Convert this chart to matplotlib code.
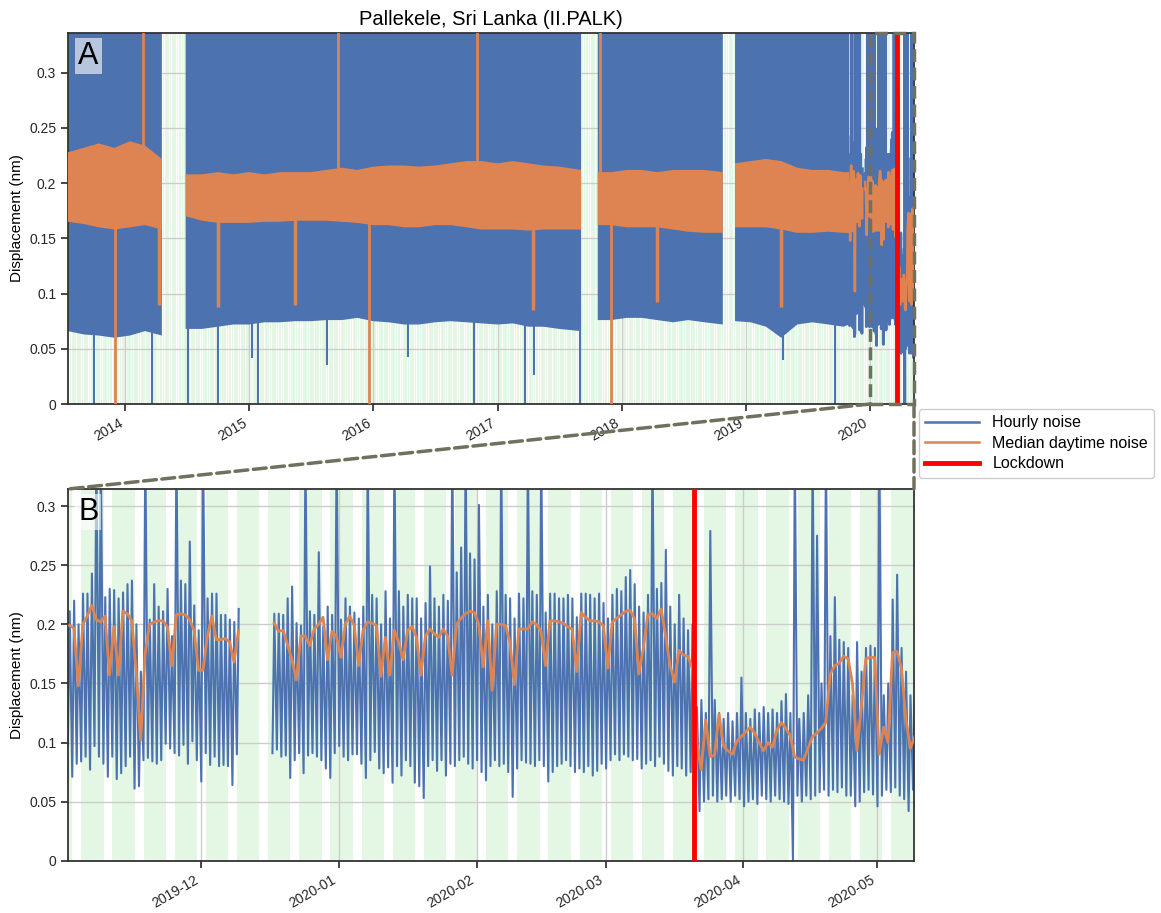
import numpy as np
import pandas as pd
import matplotlib
matplotlib.use('Agg')
import matplotlib.pyplot as plt
import matplotlib.dates as mdates
from matplotlib.patches import Rectangle, ConnectionPatch
from matplotlib.lines import Line2D
from matplotlib.ticker import FuncFormatter

plt.rcParams['font.family'] = ['Liberation Sans', 'DejaVu Sans']

BLUE = '#4c72b0'
ORANGE = '#dd8452'
GREEN = '#e4f7e4'
DASH = '#70705e'

# ---- panel A: long record, envelope read per period (nm) ----
A_DATES = ['2013-07-17', '2013-09-01', '2013-10-15', '2013-12-01', '2014-01-15', '2014-03-01', '2014-04-19', '2014-05-20',
           '2014-06-28', '2014-08-15', '2014-10-01', '2014-11-15', '2015-01-01', '2015-02-15', '2015-04-01', '2015-05-15',
           '2015-07-01', '2015-08-15', '2015-10-01', '2015-11-15', '2016-01-01', '2016-02-15', '2016-04-01', '2016-05-15',
           '2016-07-01', '2016-08-15', '2016-10-01', '2016-11-15', '2017-01-01', '2017-02-15', '2017-04-01', '2017-05-15',
           '2017-07-01', '2017-09-03', '2017-09-30',
           '2017-10-22', '2017-12-01', '2018-01-15', '2018-03-01', '2018-04-15', '2018-06-01', '2018-07-15', '2018-09-01',
           '2018-10-25', '2018-11-12',
           '2018-11-30', '2019-01-15', '2019-03-01', '2019-04-15', '2019-06-01', '2019-07-15', '2019-09-01', '2019-10-15',
           '2019-11-01']
A_BLUE_LO = [0.066, 0.063, 0.062, 0.060, 0.062, 0.066, 0.062, np.nan,
             0.068, 0.068, 0.070, 0.072, 0.072, 0.074, 0.074, 0.075,
             0.075, 0.076, 0.076, 0.078, 0.075, 0.074, 0.072, 0.072,
             0.074, 0.075, 0.074, 0.073, 0.072, 0.073, 0.070, 0.070,
             0.068, 0.066, np.nan,
             0.076, 0.076, 0.078, 0.078, 0.076, 0.074, 0.076, 0.074,
             0.072, np.nan,
             0.075, 0.074, 0.070, 0.060, 0.072, 0.074, 0.072, 0.070,
             0.072]
A_MED_LO = [0.165, 0.163, 0.160, 0.158, 0.160, 0.162, 0.158, np.nan,
            0.170, 0.166, 0.164, 0.164, 0.164, 0.165, 0.165, 0.166,
            0.166, 0.166, 0.165, 0.164, 0.162, 0.162, 0.160, 0.160,
            0.162, 0.162, 0.160, 0.158, 0.158, 0.158, 0.157, 0.158,
            0.158, 0.158, np.nan,
            0.162, 0.162, 0.160, 0.160, 0.160, 0.158, 0.156, 0.155,
            0.155, np.nan,
            0.160, 0.160, 0.160, 0.158, 0.155, 0.155, 0.156, 0.155,
            0.155]
A_MED_HI = [0.228, 0.232, 0.236, 0.232, 0.238, 0.234, 0.222, np.nan,
            0.208, 0.208, 0.210, 0.208, 0.210, 0.208, 0.210, 0.210,
            0.210, 0.212, 0.214, 0.212, 0.215, 0.216, 0.216, 0.215,
            0.216, 0.218, 0.220, 0.220, 0.218, 0.220, 0.218, 0.216,
            0.215, 0.212, np.nan,
            0.210, 0.210, 0.212, 0.212, 0.210, 0.212, 0.212, 0.212,
            0.210, np.nan,
            0.218, 0.220, 0.222, 0.220, 0.214, 0.212, 0.212, 0.210,
            0.210]
A_BLUE_DROP = ['2013-10-02', '2014-03-20', '2014-07-04', '2014-10-01', '2015-01-26',
               '2016-10-22', '2017-03-22', '2017-09-01', '2019-09-21']
A_BLUE_DIP_DATES = ['2015-01-09', '2015-08-17', '2016-04-12', '2017-04-18', '2019-04-20']
A_BLUE_DIP_VALS = [0.042, 0.035, 0.043, 0.026, 0.040]
A_MED_DROP = ['2013-12-03', '2015-12-18', '2017-11-29']
A_MED_PEAK = ['2014-02-23', '2015-09-20', '2016-11-01', '2017-10-29']
A_MED_DIP_DATES = ['2014-04-10', '2014-09-30', '2015-05-15', '2017-04-15', '2018-04-14', '2019-04-14']
A_MED_DIP_VALS = [0.090, 0.088, 0.090, 0.085, 0.092, 0.088]

# ---- panel B: daily values from 2019-11-01 (nm) ----
B_START = '2019-11-01'
B_MED = [0.199, 0.197, 0.148, 0.200, 0.207, 0.216, 0.204, 0.202, 0.207, 0.157,
         0.198, 0.157, 0.211, 0.209, 0.203, 0.160, 0.102, 0.175, 0.200, 0.202,
         0.203, 0.203, 0.198, 0.165, 0.208, 0.209, 0.208, 0.204, 0.195, 0.161,
         0.161, 0.190, 0.207, 0.187, 0.187, 0.188, 0.185, 0.168, 0.195,
         np.nan, np.nan, np.nan, np.nan, np.nan, np.nan, np.nan,
         0.201, 0.194, 0.195, 0.183, 0.170, 0.153, 0.190, 0.190, 0.182, 0.196,
         0.200, 0.206, 0.170, 0.194, 0.190, 0.172, 0.200, 0.207, 0.199, 0.165,
         0.195, 0.202, 0.201, 0.199, 0.156, 0.189, 0.157, 0.195, 0.185, 0.170,
         0.195, 0.198, 0.189, 0.157, 0.190, 0.196, 0.192, 0.189, 0.196, 0.190,
         0.157, 0.200, 0.205, 0.209, 0.211, 0.210, 0.200, 0.164, 0.203, 0.144,
         0.200, 0.200, 0.199, 0.185, 0.149, 0.196, 0.196, 0.196, 0.202, 0.200,
         0.194, 0.165, 0.203, 0.203, 0.202, 0.201, 0.198, 0.196, 0.160, 0.210,
         0.206, 0.203, 0.203, 0.202, 0.199, 0.163, 0.202, 0.205, 0.208, 0.211,
         0.212, 0.205, 0.158, 0.180, 0.208, 0.209, 0.205, 0.213, 0.190, 0.165,
         0.151, 0.178, 0.174, 0.173, 0.163, 0.100, 0.077, 0.119, 0.088, 0.089,
         0.124, 0.097, 0.093, 0.090, 0.101, 0.105, 0.109, 0.113, 0.108, 0.100,
         0.093, 0.100, 0.096, 0.110, 0.117, 0.112, 0.106, 0.088, 0.086, 0.085,
         0.095, 0.105, 0.108, 0.112, 0.117, 0.158, 0.165, 0.167, 0.173, 0.171,
         0.150, 0.093, 0.130, 0.171, 0.172, 0.172, 0.090, 0.113, 0.100, 0.176,
         0.177, 0.163, 0.120, 0.095, 0.105]
B_HOUR_HI = [0.211, 0.220, 0.200, 0.226, 0.226, 0.243, 0.350, 0.350, 0.223, 0.230,
             0.229, 0.222, 0.227, 0.234, 0.237, 0.200, 0.160, 0.350, 0.204, 0.234,
             0.215, 0.211, 0.230, 0.190, 0.350, 0.237, 0.234, 0.270, 0.216, 0.195,
             0.350, 0.222, 0.226, 0.226, 0.208, 0.208, 0.204, 0.202, 0.213,
             np.nan, np.nan, np.nan, np.nan, np.nan, np.nan, np.nan,
             0.209, 0.209, 0.208, 0.222, 0.232, 0.201, 0.199, 0.350, 0.211, 0.208,
             0.261, 0.198, 0.215, 0.208, 0.350, 0.204, 0.222, 0.215, 0.210, 0.205,
             0.215, 0.350, 0.225, 0.222, 0.200, 0.228, 0.205, 0.350, 0.228, 0.215,
             0.225, 0.222, 0.222, 0.205, 0.218, 0.249, 0.222, 0.215, 0.225, 0.220,
             0.350, 0.244, 0.265, 0.350, 0.260, 0.255, 0.301, 0.215, 0.225, 0.200,
             0.228, 0.350, 0.225, 0.222, 0.205, 0.226, 0.222, 0.350, 0.228, 0.225,
             0.350, 0.210, 0.226, 0.226, 0.222, 0.222, 0.225, 0.222, 0.206, 0.226,
             0.226, 0.225, 0.222, 0.226, 0.218, 0.205, 0.225, 0.230, 0.228, 0.240,
             0.246, 0.234, 0.215, 0.210, 0.225, 0.350, 0.230, 0.235, 0.263, 0.215,
             0.200, 0.225, 0.205, 0.195, 0.200, 0.130, 0.136, 0.125, 0.279, 0.136,
             0.125, 0.120, 0.125, 0.118, 0.125, 0.155, 0.125, 0.120, 0.128, 0.125,
             0.130, 0.125, 0.128, 0.125, 0.135, 0.141, 0.125, 0.350, 0.120, 0.125,
             0.140, 0.350, 0.275, 0.150, 0.350, 0.190, 0.223, 0.187, 0.185, 0.180,
             0.140, 0.185, 0.160, 0.180, 0.182, 0.180, 0.350, 0.140, 0.150, 0.221,
             0.242, 0.180, 0.160, 0.140, 0.139]
B_HOUR_LO = [0.097, 0.071, 0.082, 0.084, 0.088, 0.077, 0.097, 0.088, 0.082, 0.071,
             0.088, 0.069, 0.074, 0.080, 0.088, 0.061, 0.063, 0.085, 0.087, 0.084,
             0.082, 0.085, 0.099, 0.095, 0.091, 0.089, 0.098, 0.082, 0.101, 0.085,
             0.067, 0.091, 0.081, 0.088, 0.080, 0.081, 0.080, 0.064, 0.090,
             np.nan, np.nan, np.nan, np.nan, np.nan, np.nan, np.nan,
             0.091, 0.094, 0.088, 0.089, 0.070, 0.085, 0.091, 0.074, 0.089, 0.091,
             0.088, 0.085, 0.078, 0.070, 0.091, 0.097, 0.088, 0.085, 0.090, 0.090,
             0.082, 0.070, 0.085, 0.092, 0.078, 0.074, 0.079, 0.066, 0.080, 0.072,
             0.085, 0.080, 0.066, 0.063, 0.053, 0.080, 0.085, 0.076, 0.085, 0.072,
             0.082, 0.080, 0.085, 0.088, 0.082, 0.078, 0.085, 0.075, 0.068, 0.080,
             0.085, 0.080, 0.082, 0.075, 0.054, 0.078, 0.085, 0.083, 0.082, 0.080,
             0.085, 0.080, 0.067, 0.075, 0.080, 0.082, 0.085, 0.080, 0.075, 0.078,
             0.075, 0.080, 0.072, 0.076, 0.082, 0.078, 0.085, 0.090, 0.085, 0.090,
             0.088, 0.085, 0.086, 0.078, 0.082, 0.085, 0.080, 0.088, 0.082, 0.076,
             0.072, 0.080, 0.078, 0.072, 0.075, 0.055, 0.042, 0.050, 0.052, 0.055,
             0.050, 0.052, 0.055, 0.050, 0.055, 0.052, 0.046, 0.050, 0.052, 0.048,
             0.055, 0.052, 0.050, 0.055, 0.052, 0.050, 0.048, 0.000, 0.055, 0.050,
             0.055, 0.052, 0.055, 0.058, 0.060, 0.055, 0.060, 0.058, 0.062, 0.055,
             0.055, 0.046, 0.050, 0.058, 0.060, 0.056, 0.046, 0.055, 0.060, 0.058,
             0.062, 0.055, 0.052, 0.042, 0.060]
LOCKDOWN = '2020-03-20 20:00'
ZOOM_FROM = '2020-01-01'

# hourly trace: night low and day high for each day
b_days = pd.date_range(B_START, periods=len(B_MED), freq='D')
hour_t = np.empty(2 * len(b_days), dtype='datetime64[ns]')
hour_t[0::2] = (b_days + pd.Timedelta(hours=3)).values
hour_t[1::2] = (b_days + pd.Timedelta(hours=13)).values
hour_v = np.empty(2 * len(b_days))
hour_v[0::2] = B_HOUR_LO
hour_v[1::2] = B_HOUR_HI
med_t = b_days + pd.Timedelta(hours=12)

fig = plt.figure(figsize=(11.61, 9.13), dpi=100)
W, H = 1161, 913
ax_a = fig.add_axes([68 / W, 1 - 404 / H, 846 / W, 371 / H])
ax_b = fig.add_axes([68 / W, 1 - 860.7 / H, 846 / W, 371.7 / H])

a_lim = (pd.Timestamp('2013-07-17'), pd.Timestamp('2020-05-09 08:00'))
b_lim = (pd.Timestamp('2019-11-01 04:00'), pd.Timestamp('2020-05-09 08:00'))

for ax, lim, ytop in [(ax_a, a_lim, 0.336), (ax_b, b_lim, 0.3145)]:
    # weekdays shaded
    for mon in pd.date_range(lim[0] - pd.Timedelta(days=7), lim[1], freq='W-MON'):
        ax.axvspan(mon, mon + pd.Timedelta(days=5), color=GREEN, lw=0, zorder=0)
    ax.set_xlim(lim)
    ax.set_ylim(0, ytop)
    ax.set_yticks(np.arange(0, 0.31, 0.05))
    ax.yaxis.set_major_formatter(FuncFormatter(lambda v, _: f'{v:g}'))
    ax.set_axisbelow(True)
    ax.grid(True, color='0.8', lw=1)
    ax.set_ylabel('Displacement (nm)', fontsize=11)
    ax.tick_params(direction='out', length=5, width=1.2, colors='0.15', labelsize=10)
    for s in ax.spines.values():
        s.set_linewidth(1.3)
        s.set_color('0.2')
    ax.axvline(pd.Timestamp(LOCKDOWN), color='red', lw=3.5, zorder=6)

# panel A
a_t = pd.to_datetime(A_DATES)
ax_a.fill_between(a_t, np.array(A_BLUE_LO), 0.34, color=BLUE, lw=0, zorder=2)
ax_a.fill_between(a_t, np.array(A_MED_LO), np.array(A_MED_HI), color=ORANGE, lw=0, zorder=3)
ax_a.vlines(pd.to_datetime(A_BLUE_DROP), 0, 0.09, color=BLUE, lw=1.5, zorder=2)
ax_a.vlines(pd.to_datetime(A_BLUE_DIP_DATES), A_BLUE_DIP_VALS, 0.09, color=BLUE, lw=1.5, zorder=2)
ax_a.vlines(pd.to_datetime(A_MED_DROP), 0, 0.17, color=ORANGE, lw=2, zorder=3)
ax_a.vlines(pd.to_datetime(A_MED_PEAK), 0.2, 0.34, color=ORANGE, lw=2, zorder=3)
ax_a.vlines(pd.to_datetime(A_MED_DIP_DATES), A_MED_DIP_VALS, 0.17, color=ORANGE, lw=2.5, zorder=3)
ax_a.plot(hour_t, hour_v, color=BLUE, lw=2.0, zorder=2)
ax_a.plot(med_t, B_MED, color=ORANGE, lw=1.8, zorder=3)
ax_a.xaxis.set_major_locator(mdates.YearLocator())
ax_a.xaxis.set_major_formatter(mdates.DateFormatter('%Y'))
ax_a.set_title('Pallekele, Sri Lanka (II.PALK)', fontsize=14.5)

# panel B
ax_b.plot(hour_t, hour_v, color=BLUE, lw=1.5, zorder=2)
ax_b.plot(med_t, B_MED, color=ORANGE, lw=2, zorder=3)
ax_b.xaxis.set_major_locator(mdates.MonthLocator())
ax_b.xaxis.set_major_formatter(mdates.DateFormatter('%Y-%m'))

for ax in (ax_a, ax_b):
    for lab in ax.get_xticklabels():
        lab.set_rotation(30)
        lab.set_ha('right')

for ax, letter in [(ax_a, 'A'), (ax_b, 'B')]:
    ax.text(0.012, 0.978, letter, transform=ax.transAxes, fontsize=22, va='top', ha='left', zorder=10,
            bbox=dict(facecolor='white', alpha=0.6, edgecolor='none', boxstyle='square,pad=0.1'))

# zoom box and connectors
z0 = mdates.date2num(pd.Timestamp(ZOOM_FROM))
z1 = mdates.date2num(a_lim[1])
ax_a.add_patch(Rectangle((z0, 0), z1 - z0, 0.336, fill=False, ls='--', lw=2.5, ec=DASH,
                         clip_on=False, zorder=8))
for xa, xb in [((z0, 0), (0, 1)), ((1, 0), (1, 1))]:
    cA = ax_a.transData if xa[0] == z0 else ax_a.transAxes
    con = ConnectionPatch(xyA=xa, coordsA=cA, xyB=xb, coordsB=ax_b.transAxes,
                          ls='--', lw=2.5, color=DASH, zorder=8)
    fig.add_artist(con)

handles = [Line2D([], [], color=BLUE, lw=1.8), Line2D([], [], color=ORANGE, lw=1.8),
           Line2D([], [], color='red', lw=3.5)]
ax_a.legend(handles, ['Hourly noise', 'Median daytime noise', 'Lockdown'], loc='upper left',
            bbox_to_anchor=(1.0, 0.0), borderaxespad=0.3, fontsize=11.5, handlelength=3.4,
            labelspacing=0.35, edgecolor='0.8', framealpha=1)

fig.savefig('out.png', dpi=100)
